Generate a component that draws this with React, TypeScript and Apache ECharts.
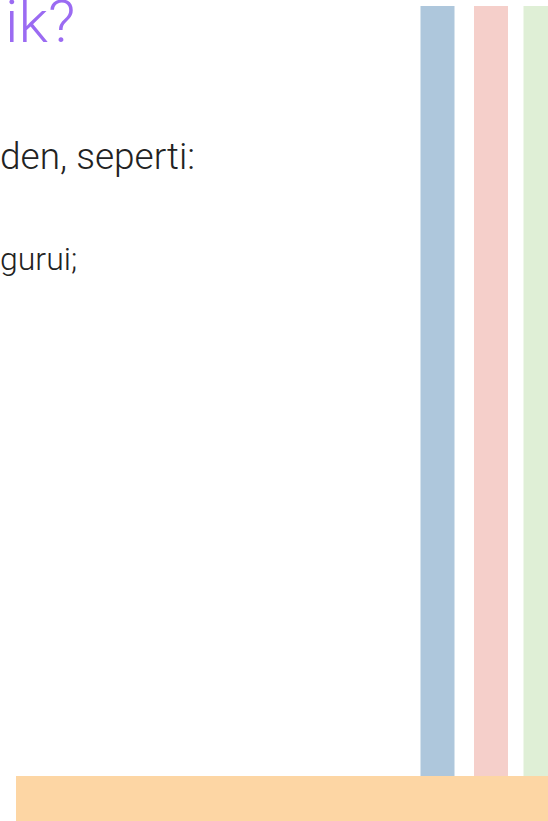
import { useEffect, useRef } from "react";
import * as echarts from "echarts";

// Decorative stripes (x centre in px-scale units, full height = 1)
const stripeCenters = [437.5, 491, 540.5];
const stripeValues = [1, 1, 1];
const stripeColors = ["#AEC7DC", "#F5CFCA", "#DFEFD6"];
// Texts
const titleText = "ik?";
const bodyLines = ["den, seperti:", "gurui;"];
const bandColor = "#FDD6A4";

export default function App() {
  const ref = useRef<HTMLDivElement>(null);
  useEffect(() => {
    document.body.style.margin = "0";
    const chart = echarts.init(ref.current!, null, { renderer: "svg" });
    chart.setOption({
      animation: false,
      backgroundColor: "#ffffff",
      grid: { left: 0, right: 0, top: 6, bottom: 45 },
      xAxis: { type: "value", min: 0, max: 548, show: false },
      yAxis: { type: "value", min: 0, max: 1, show: false },
      series: [
        {
          type: "bar",
          barWidth: 34,
          data: stripeCenters.map((c, i) => ({
            value: [c, stripeValues[i]],
            itemStyle: { color: stripeColors[i] },
          })),
          silent: true,
        },
      ],
      graphic: [
        {
          type: "rect",
          shape: { x: 16, y: 776, width: 532, height: 45 },
          style: { fill: bandColor },
        },
        {
          type: "text",
          x: 5,
          y: 51,
          style: {
            text: titleText,
            fill: "#9B6BF2",
            font: "300 60px Roboto",
            verticalAlign: "bottom",
          },
        },
        {
          type: "text",
          x: 0,
          y: 175,
          style: {
            text: bodyLines[0],
            fill: "#222222",
            font: "300 37px Roboto",
            verticalAlign: "bottom",
          },
        },
        {
          type: "text",
          x: 0,
          y: 275,
          style: {
            text: bodyLines[1],
            fill: "#222222",
            font: "300 32px Roboto",
            verticalAlign: "bottom",
          },
        },
      ],
    });
    return () => chart.dispose();
  }, []);
  return <div ref={ref} style={{ width: 548, height: 821 }} />;
}
